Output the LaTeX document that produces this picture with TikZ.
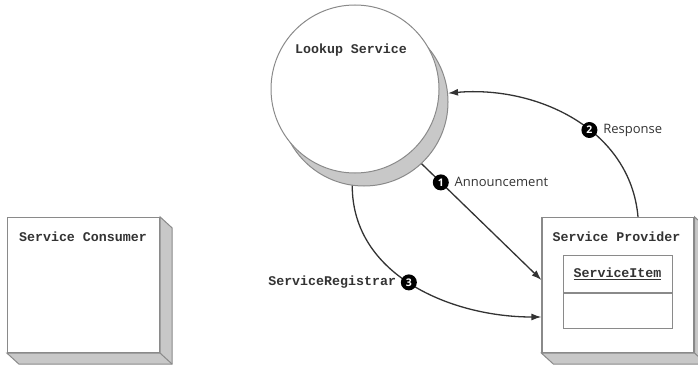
\documentclass[tikz,border=0pt]{standalone}
\usepackage{fontspec}
\setsansfont{Open Sans}
\setmonofont{Liberation Mono}
\usetikzlibrary{arrows.meta,calc,positioning}
\definecolor{boxgray}{HTML}{8A8A8A}
\definecolor{facegray}{HTML}{C8C8C8}
\definecolor{inkgray}{HTML}{333333}
\begin{document}
\begin{tikzpicture}[x=1pt,y=1pt,
	box/.style={draw=boxgray,line width=1.2pt,fill=white,minimum width=152pt,minimum height=135pt,inner sep=0pt},
	face/.style={draw=boxgray,line width=1pt,fill=facegray},
	globe/.style={circle,draw=boxgray,line width=1pt,minimum size=168pt,inner sep=0pt},
	title/.style={font=\ttfamily\bfseries\fontsize{13.3}{15}\selectfont,text=inkgray,inner sep=0pt},
	lbl/.style={font=\sffamily\fontsize{13}{15}\selectfont,text=inkgray,inner sep=0pt},
	badge/.style={circle,fill=black,text=white,font=\sffamily\bfseries\fontsize{10.5}{10.5}\selectfont,inner sep=0pt,minimum size=16pt},
	link/.style={draw=inkgray,line width=1.3pt,-{Latex[length=10pt,width=7pt]}}]
	\useasboundingbox (0,0) rectangle (698,365);
	\node[globe,fill=facegray] (lookupshade) at (364,263) {};
	\node[globe,fill=white] (lookup) at (355,276) {};
	\node[title] (lookuptitle) at (351,315) {Lookup Service};
	\node[box] (consumer) at (83.5,80) {};
	\node[box] (provider) at (618,80) {};
	\foreach \b in {consumer,provider} {
		\draw[face] (\b.north east) -- ++(12,-11) -- ($(\b.south east)+(12,-11)$) -- ($(\b.south west)+(12,-11)$) -- (\b.south west) -- (\b.south east) -- cycle;
		\draw[face] (\b.south east) -- ++(12,-11);
	}
	\node[title,anchor=west] (consumertitle) at ($(consumer.north west)+(12,-20)$) {Service Consumer};
	\node[title,anchor=west] (providertitle) at ($(provider.north west)+(11,-20)$) {Service Provider};
	\node[draw=boxgray,line width=1pt,minimum width=109pt,minimum height=37pt,font=\ttfamily\bfseries\fontsize{13.3}{15}\selectfont,text=inkgray] (itemhead) at (617.5,91.5) {\underline{ServiceItem}};
	\node[draw=boxgray,line width=1pt,minimum width=109pt,minimum height=35pt,anchor=north] (itembody) at (itemhead.south) {};
	\draw[link] (lookupshade.313) -- node[badge,pos=0.16] (one) {1} ([yshift=5pt]provider.west);
	\node[lbl,right=5pt of one] (announce) {Announcement};
	\draw[link] ([xshift=20pt]provider.north) to[out=95,in=5] node[badge,pos=0.42] (two) {2} (lookupshade.6);
	\node[lbl,right=5pt of two] (response) {Response};
	\draw[link] (lookupshade.262) to[out=-90,in=180] node[badge,pos=0.48] (three) {3} ([yshift=-32pt]provider.west);
	\node[title,left=4pt of three] (registrar) {ServiceRegistrar};
\end{tikzpicture}
\end{document}
